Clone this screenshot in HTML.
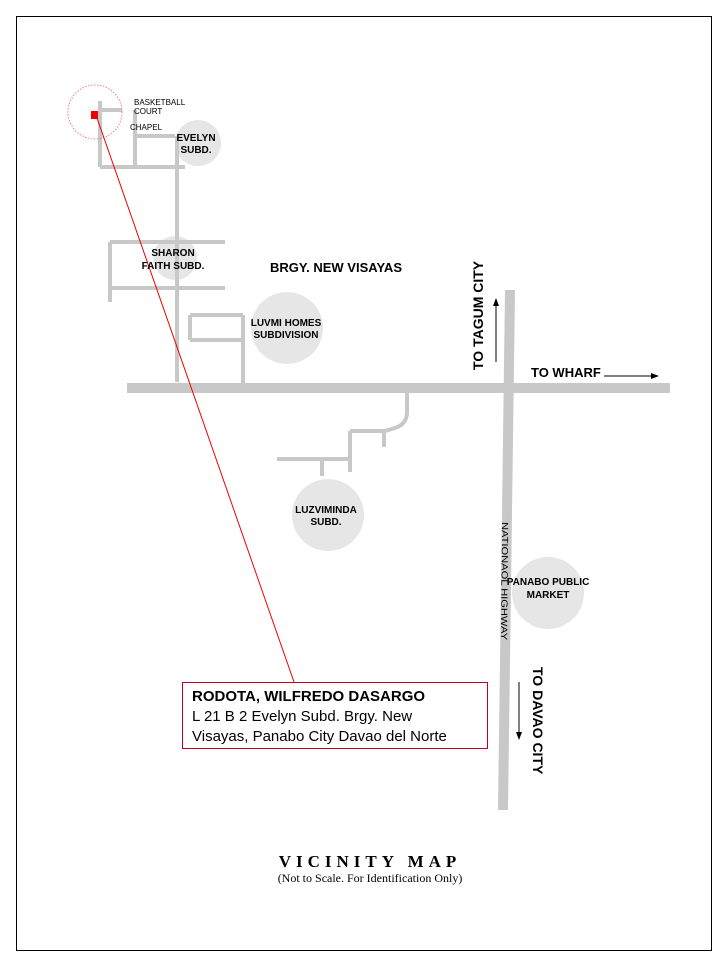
<!DOCTYPE html>
<html><head><style>body{margin:0;background:#fff}svg{display:block}</style></head><body>
<svg width="720" height="960" xmlns="http://www.w3.org/2000/svg" font-family="Liberation Sans, sans-serif">
<rect x="16.5" y="16.5" width="695" height="934" fill="none" stroke="#000" stroke-width="1"/>
<g fill="#e6e6e6">
<circle cx="198" cy="143" r="23"/>
<circle cx="175" cy="258" r="22"/>
<circle cx="287" cy="328" r="36"/>
<circle cx="328" cy="515" r="36"/>
<circle cx="548" cy="593" r="36"/>
</g>
<g stroke="#c8c8c8" fill="none" stroke-width="4">
<path d="M100 101V167M100 110H122M135 110V167M135 136H175M100 167H185M177 136V382"/>
<path d="M110 242H225M110 288H225M110 242V302"/>
<path d="M190 315H243M190 315V340M190 340H243M243 315V383"/>
<path d="M407 393V412Q407 424 395 428L385 431H350M384 431V447M350 431V472M277 459H350M322 459V476"/>
</g>
<rect x="127" y="383" width="543" height="10" fill="#c8c8c8"/>
<polygon points="505,290 515,290 508,810 498,810" fill="#c8c8c8"/>
<circle cx="95" cy="112" r="27" fill="none" stroke="#f08080" stroke-width="1" stroke-dasharray="1.5,1.5"/>
<rect x="91" y="111" width="7" height="8" fill="#e00"/>
<line x1="97" y1="118" x2="294" y2="682" stroke="#e00" stroke-width="1"/>
<g font-size="8" fill="#000">
<text x="134" y="105">BASKETBALL</text>
<text x="134" y="114">COURT</text>
<text x="130" y="130">CHAPEL</text>
</g>
<g font-size="10" font-weight="bold" fill="#000" text-anchor="middle">
<text x="196" y="141">EVELYN</text><text x="196" y="153">SUBD.</text>
<text x="173" y="256">SHARON</text><text x="173" y="269">FAITH SUBD.</text>
<text x="286" y="326">LUVMI HOMES</text><text x="286" y="338">SUBDIVISION</text>
<text x="326" y="513">LUZVIMINDA</text><text x="326" y="525">SUBD.</text>
<text x="548" y="585">PANABO PUBLIC</text><text x="548" y="598">MARKET</text>
</g>
<text x="336" y="272" font-size="13" font-weight="bold" text-anchor="middle">BRGY. NEW VISAYAS</text>
<text x="531" y="377" font-size="13" font-weight="bold">TO WHARF</text>
<line x1="604" y1="376" x2="652" y2="376" stroke="#000"/><polygon points="659,376 651,373 651,379"/>
<text transform="translate(483,370) rotate(-90)" font-size="14" font-weight="bold">TO TAGUM CITY</text>
<line x1="496" y1="362" x2="496" y2="305" stroke="#000"/><polygon points="496,298 493,306 499,306"/>
<text transform="translate(533,667) rotate(90)" font-size="14" font-weight="bold">TO DAVAO CITY</text>
<line x1="519" y1="682" x2="519" y2="733" stroke="#000"/><polygon points="519,740 516,732 522,732"/>
<text transform="translate(502,522) rotate(90.5)" font-size="9" textLength="118" lengthAdjust="spacingAndGlyphs">NATIONAOL HIGHWAY</text>
<rect x="182.5" y="682.5" width="305" height="66" fill="#fff" stroke="#c00020" stroke-width="1"/>
<text x="192" y="701" font-size="15" font-weight="bold">RODOTA, WILFREDO DASARGO</text>
<text x="192" y="721" font-size="15">L 21 B 2 Evelyn Subd. Brgy. New</text>
<text x="192" y="741" font-size="15">Visayas, Panabo City Davao del Norte</text>
<text x="370" y="867" font-family="Liberation Serif, serif" font-size="17" font-weight="bold" text-anchor="middle" letter-spacing="5">VICINITY MAP</text>
<text x="370" y="882" font-family="Liberation Serif, serif" font-size="12" text-anchor="middle">(Not to Scale. For Identification Only)</text>
</svg>
</body></html>
